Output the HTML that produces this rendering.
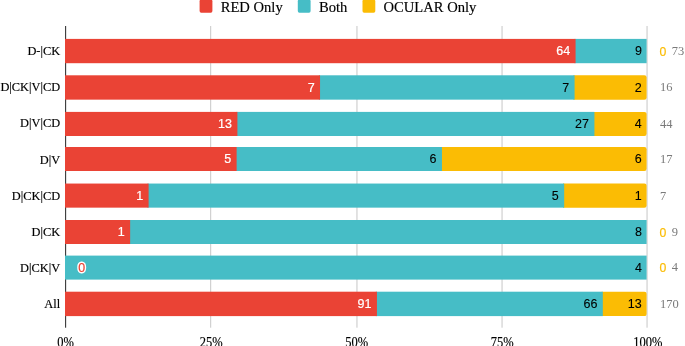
<!DOCTYPE html><html><head><meta charset="utf-8"><title>chart</title><style>html,body{margin:0;padding:0;background:#fff}svg{display:block}.s{font-family:"Liberation Serif",serif}.n{font-family:"Liberation Sans",sans-serif}</style></head><body>
<svg width="685" height="346" viewBox="0 0 685 346">
<rect width="685" height="346" fill="#fff"/>
<rect x="210.10" y="26" width="1.1" height="301.7" fill="#cccccc"/>
<rect x="356.40" y="26" width="1.1" height="301.7" fill="#cccccc"/>
<rect x="501.50" y="26" width="1.1" height="301.7" fill="#cccccc"/>
<rect x="646.50" y="26" width="1.1" height="301.7" fill="#cccccc"/>
<rect x="65.0" y="26" width="1.15" height="301.7" fill="#404040"/>
<rect x="199.60" y="-0.4" width="12.8" height="13.1" rx="1.6" fill="#ea4335"/>
<text class="s" transform="translate(220.7 11.75) scale(1 1.055)" font-size="14.6" fill="#000" stroke="#000" stroke-width="0.15">RED Only</text>
<rect x="297.80" y="-0.4" width="12.8" height="13.1" rx="1.6" fill="#46bdc6"/>
<text class="s" transform="translate(319.0 11.75) scale(1 1.055)" font-size="14.6" fill="#000" stroke="#000" stroke-width="0.15">Both</text>
<rect x="362.50" y="-0.4" width="12.8" height="13.1" rx="1.6" fill="#fbbc04"/>
<text class="s" transform="translate(383.5 11.75) scale(1 1.055)" font-size="14.6" fill="#000" stroke="#000" stroke-width="0.15">OCULAR Only</text>
<rect x="574.37" y="38.90" width="72.23" height="24.30" fill="#46bdc6"/>
<rect x="65.0" y="38.90" width="510.57" height="24.30" fill="#ea4335"/>
<text class="s" transform="translate(60.2 55.20) scale(1 1.09)" font-size="12.4" text-anchor="end" fill="#000" stroke="#000" stroke-width="0.15">D-|CK</text>
<text class="n" x="570.17" y="54.95" font-size="12.5" text-anchor="end" fill="#fff" stroke="#fff" stroke-width="0.2">64</text>
<text class="n" x="641.90" y="54.95" font-size="12.5" text-anchor="end" fill="#000" stroke="#000" stroke-width="0.1">9</text>
<text class="n" x="659.6" y="55.50" font-size="13.5" textLength="6.8" lengthAdjust="spacingAndGlyphs" fill="#fbbc04" stroke="#fbbc04" stroke-width="0.2">0</text>
<text class="s" transform="translate(671.8 54.55) scale(1 1.05)" font-size="12.5" fill="#7a7a7a">73</text>
<path d="M573.37 75.30H644.40Q646.60 75.30 646.60 77.50V97.45Q646.60 99.65 644.40 99.65H573.37Z" fill="#fbbc04"/>
<rect x="318.84" y="75.30" width="255.74" height="24.35" fill="#46bdc6"/>
<rect x="65.0" y="75.30" width="255.04" height="24.35" fill="#ea4335"/>
<text class="s" transform="translate(60.2 91.31) scale(1 1.09)" font-size="12.4" text-anchor="end" fill="#000" stroke="#000" stroke-width="0.15">D|CK|V|CD</text>
<text class="n" x="314.64" y="91.62" font-size="12.5" text-anchor="end" fill="#fff" stroke="#fff" stroke-width="0.2">7</text>
<text class="n" x="569.17" y="91.62" font-size="12.5" text-anchor="end" fill="#000" stroke="#000" stroke-width="0.1">7</text>
<text class="n" x="641.60" y="91.62" font-size="12.5" text-anchor="end" fill="#000" stroke="#000" stroke-width="0.1">2</text>
<text class="s" transform="translate(659.9 91.22) scale(1 1.05)" font-size="12.5" fill="#7a7a7a">16</text>
<path d="M593.21 111.90H644.40Q646.60 111.90 646.60 114.10V133.80Q646.60 136.00 644.40 136.00H593.21Z" fill="#fbbc04"/>
<rect x="236.20" y="111.90" width="358.21" height="24.10" fill="#46bdc6"/>
<rect x="65.0" y="111.90" width="172.40" height="24.10" fill="#ea4335"/>
<text class="s" transform="translate(60.2 127.42) scale(1 1.09)" font-size="12.4" text-anchor="end" fill="#000" stroke="#000" stroke-width="0.15">D|V|CD</text>
<text class="n" x="232.00" y="128.10" font-size="12.5" text-anchor="end" fill="#fff" stroke="#fff" stroke-width="0.2">13</text>
<text class="n" x="589.01" y="128.10" font-size="12.5" text-anchor="end" fill="#000" stroke="#000" stroke-width="0.1">27</text>
<text class="n" x="641.60" y="128.10" font-size="12.5" text-anchor="end" fill="#000" stroke="#000" stroke-width="0.1">4</text>
<text class="s" transform="translate(659.9 127.70) scale(1 1.05)" font-size="12.5" fill="#7a7a7a">44</text>
<path d="M440.76 147.00H644.40Q646.60 147.00 646.60 149.20V168.80Q646.60 171.00 644.40 171.00H440.76Z" fill="#fbbc04"/>
<rect x="235.42" y="147.00" width="206.54" height="24.00" fill="#46bdc6"/>
<rect x="65.0" y="147.00" width="171.62" height="24.00" fill="#ea4335"/>
<text class="s" transform="translate(60.2 163.53) scale(1 1.09)" font-size="12.4" text-anchor="end" fill="#000" stroke="#000" stroke-width="0.15">D|V</text>
<text class="n" x="231.22" y="163.35" font-size="12.5" text-anchor="end" fill="#fff" stroke="#fff" stroke-width="0.2">5</text>
<text class="n" x="436.56" y="163.35" font-size="12.5" text-anchor="end" fill="#000" stroke="#000" stroke-width="0.1">6</text>
<text class="n" x="641.60" y="163.35" font-size="12.5" text-anchor="end" fill="#000" stroke="#000" stroke-width="0.1">6</text>
<text class="s" transform="translate(659.9 162.95) scale(1 1.05)" font-size="12.5" fill="#7a7a7a">17</text>
<path d="M562.99 183.55H644.40Q646.60 183.55 646.60 185.75V205.45Q646.60 207.65 644.40 207.65H562.99Z" fill="#fbbc04"/>
<rect x="147.41" y="183.55" width="416.77" height="24.10" fill="#46bdc6"/>
<rect x="65.0" y="183.55" width="83.61" height="24.10" fill="#ea4335"/>
<text class="s" transform="translate(60.2 199.64) scale(1 1.09)" font-size="12.4" text-anchor="end" fill="#000" stroke="#000" stroke-width="0.15">D|CK|CD</text>
<text class="n" x="143.21" y="199.95" font-size="12.5" text-anchor="end" fill="#fff" stroke="#fff" stroke-width="0.2">1</text>
<text class="n" x="558.79" y="199.95" font-size="12.5" text-anchor="end" fill="#000" stroke="#000" stroke-width="0.1">5</text>
<text class="n" x="641.60" y="199.95" font-size="12.5" text-anchor="end" fill="#000" stroke="#000" stroke-width="0.1">1</text>
<text class="s" transform="translate(659.9 199.55) scale(1 1.05)" font-size="12.5" fill="#7a7a7a">7</text>
<rect x="128.94" y="220.00" width="517.66" height="24.00" fill="#46bdc6"/>
<rect x="65.0" y="220.00" width="65.14" height="24.00" fill="#ea4335"/>
<text class="s" transform="translate(60.2 235.75) scale(1 1.09)" font-size="12.4" text-anchor="end" fill="#000" stroke="#000" stroke-width="0.15">D|CK</text>
<text class="n" x="124.74" y="236.15" font-size="12.5" text-anchor="end" fill="#fff" stroke="#fff" stroke-width="0.2">1</text>
<text class="n" x="641.90" y="236.15" font-size="12.5" text-anchor="end" fill="#000" stroke="#000" stroke-width="0.1">8</text>
<text class="n" x="659.6" y="236.70" font-size="13.5" textLength="6.8" lengthAdjust="spacingAndGlyphs" fill="#fbbc04" stroke="#fbbc04" stroke-width="0.2">0</text>
<text class="s" transform="translate(671.8 235.75) scale(1 1.05)" font-size="12.5" fill="#7a7a7a">9</text>
<rect x="65.00" y="255.60" width="581.60" height="24.00" fill="#46bdc6"/>
<text class="s" transform="translate(60.2 271.86) scale(1 1.09)" font-size="12.4" text-anchor="end" fill="#000" stroke="#000" stroke-width="0.15">D|CK|V</text>
<ellipse cx="81.75" cy="267.55" rx="1.8" ry="3.4" fill="#fff"/>
<text class="n" x="78.3" y="272.25" font-size="13.2" fill="#fff" stroke="#fff" stroke-width="3.2" stroke-linejoin="round" textLength="6.9" lengthAdjust="spacingAndGlyphs">0</text>
<text class="n" x="78.3" y="272.25" font-size="13.2" fill="#ea4335" stroke="#ea4335" stroke-width="0.2" textLength="6.9" lengthAdjust="spacingAndGlyphs">0</text>
<text class="n" x="641.90" y="271.75" font-size="12.5" text-anchor="end" fill="#000" stroke="#000" stroke-width="0.1">4</text>
<text class="n" x="659.6" y="272.30" font-size="13.5" textLength="6.8" lengthAdjust="spacingAndGlyphs" fill="#fbbc04" stroke="#fbbc04" stroke-width="0.2">0</text>
<text class="s" transform="translate(671.8 271.35) scale(1 1.05)" font-size="12.5" fill="#7a7a7a">4</text>
<path d="M601.61 291.70H644.40Q646.60 291.70 646.60 293.90V313.90Q646.60 316.10 644.40 316.10H601.61Z" fill="#fbbc04"/>
<rect x="375.73" y="291.70" width="227.08" height="24.40" fill="#46bdc6"/>
<rect x="65.0" y="291.70" width="311.93" height="24.40" fill="#ea4335"/>
<text class="s" transform="translate(60.2 307.97) scale(1 1.09)" font-size="12.4" text-anchor="end" fill="#000" stroke="#000" stroke-width="0.15">All</text>
<text class="n" x="371.53" y="308.05" font-size="12.5" text-anchor="end" fill="#fff" stroke="#fff" stroke-width="0.2">91</text>
<text class="n" x="597.41" y="308.05" font-size="12.5" text-anchor="end" fill="#000" stroke="#000" stroke-width="0.1">66</text>
<text class="n" x="641.60" y="308.05" font-size="12.5" text-anchor="end" fill="#000" stroke="#000" stroke-width="0.1">13</text>
<text class="s" transform="translate(659.9 307.65) scale(1 1.05)" font-size="12.5" fill="#7a7a7a">170</text>
<text class="s" transform="translate(65.60 347) scale(1 1.09)" font-size="12.5" text-anchor="middle" fill="#000" stroke="#000" stroke-width="0.15">0%</text>
<text class="s" transform="translate(211.15 347) scale(1 1.09)" font-size="12.5" text-anchor="middle" fill="#000" stroke="#000" stroke-width="0.15">25%</text>
<text class="s" transform="translate(356.70 347) scale(1 1.09)" font-size="12.5" text-anchor="middle" fill="#000" stroke="#000" stroke-width="0.15">50%</text>
<text class="s" transform="translate(502.25 347) scale(1 1.09)" font-size="12.5" text-anchor="middle" fill="#000" stroke="#000" stroke-width="0.15">75%</text>
<text class="s" transform="translate(647.80 347) scale(1 1.09)" font-size="12.5" text-anchor="middle" fill="#000" stroke="#000" stroke-width="0.15">100%</text>
</svg></body></html>
